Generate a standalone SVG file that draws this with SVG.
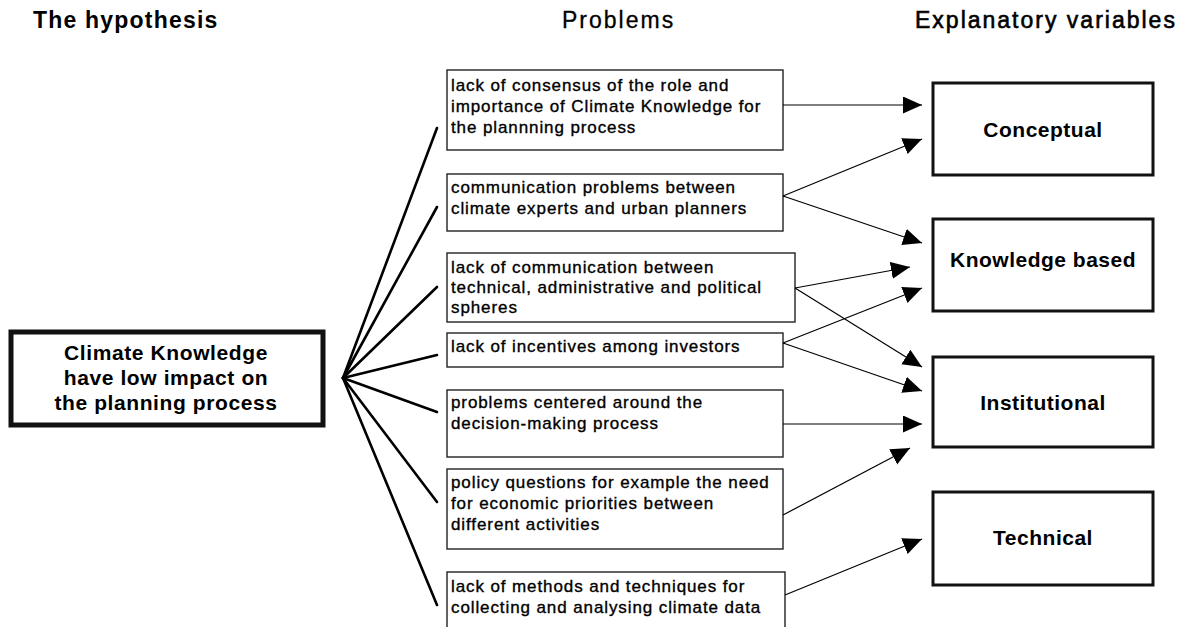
<svg xmlns="http://www.w3.org/2000/svg" width="1179" height="627" viewBox="0 0 1179 627">
<style>
  text { font-family: "Liberation Sans", Arial, sans-serif; fill: #000; }
  .head { font-size: 23px; letter-spacing: 2px; stroke: #000; stroke-width: 0.3px; }
  .head2 { font-size: 23px; letter-spacing: 2px; stroke: #000; stroke-width: 0.6px; }
  .headb { font-size: 23px; font-weight: bold; letter-spacing: 1.2px; }
  .hyp { font-size: 21px; font-weight: bold; letter-spacing: 0.6px; text-anchor: middle; }
  .prob { font-size: 17px; letter-spacing: 0.9px; stroke: #000; stroke-width: 0.35px; }
  .var { font-size: 21px; font-weight: bold; letter-spacing: 0.5px; text-anchor: middle; }
  .pbox { fill: #fff; stroke: #222; stroke-width: 1.4px; }
  .vbox { fill: #fff; stroke: #111; stroke-width: 3px; }
  .hbox { fill: #fff; stroke: #111; stroke-width: 5px; }
  .spoke { stroke: #000; stroke-width: 2.6px; fill: none; stroke-linecap: round; }
  .arrow { stroke: #000; stroke-width: 1.2px; fill: none; marker-end: url(#ah); }
</style>
<defs>
  <marker id="ah" markerUnits="userSpaceOnUse" markerWidth="20" markerHeight="18" refX="19" refY="8.5" orient="auto">
    <path d="M0,0 L19,8.5 L0,17 z" fill="#000"/>
  </marker>
</defs>
<rect width="1179" height="627" fill="#fff"/>

<g id="headings">
  <text class="headb" x="33" y="28">The hypothesis</text>
  <text class="head" x="562" y="28">Problems</text>
  <text class="head2" x="915" y="28">Explanatory variables</text>
</g>

<g id="hypothesis">
  <rect class="hbox" x="11" y="332" width="312" height="93"/>
  <text class="hyp" x="166" y="360">Climate Knowledge</text>
  <text class="hyp" x="166" y="385">have low impact on</text>
  <text class="hyp" x="166" y="410">the planning process</text>
</g>

<g id="p1">
  <rect class="pbox" x="447" y="70" width="336" height="80"/>
  <text class="prob" x="451" y="91">lack of consensus of the role and</text>
  <text class="prob" x="451" y="112">importance of Climate Knowledge for</text>
  <text class="prob" x="451" y="133">the plannning process</text>
</g>
<g id="p2">
  <rect class="pbox" x="447" y="174" width="336" height="57"/>
  <text class="prob" x="451" y="193">communication problems between</text>
  <text class="prob" x="451" y="214">climate experts and urban planners</text>
</g>
<g id="p3">
  <rect class="pbox" x="447" y="253" width="348" height="69"/>
  <text class="prob" x="451" y="273">lack of communication between</text>
  <text class="prob" x="451" y="293">technical, administrative and political</text>
  <text class="prob" x="451" y="313">spheres</text>
</g>
<g id="p4">
  <rect class="pbox" x="447" y="333" width="336" height="34"/>
  <text class="prob" x="451" y="352">lack of incentives among investors</text>
</g>
<g id="p5">
  <rect class="pbox" x="447" y="390" width="336" height="67"/>
  <text class="prob" x="451" y="408">problems centered around the</text>
  <text class="prob" x="451" y="429">decision-making process</text>
</g>
<g id="p6">
  <rect class="pbox" x="447" y="469" width="336" height="80"/>
  <text class="prob" x="451" y="488">policy questions for example the need</text>
  <text class="prob" x="451" y="509">for economic priorities between</text>
  <text class="prob" x="451" y="530">different activities</text>
</g>
<g id="p7">
  <rect class="pbox" x="447" y="572" width="338" height="70"/>
  <text class="prob" x="451" y="592">lack of methods and techniques for</text>
  <text class="prob" x="451" y="613">collecting and analysing climate data</text>
</g>

<g id="conceptual">
  <rect class="vbox" x="933" y="83" width="220" height="92"/>
  <text class="var" x="1043" y="137">Conceptual</text>
</g>
<g id="knowledge">
  <rect class="vbox" x="933" y="219" width="220" height="92"/>
  <text class="var" x="1043" y="267">Knowledge based</text>
</g>
<g id="institutional">
  <rect class="vbox" x="933" y="357" width="220" height="90"/>
  <text class="var" x="1043" y="410">Institutional</text>
</g>
<g id="technical">
  <rect class="vbox" x="933" y="492" width="220" height="93"/>
  <text class="var" x="1043" y="545">Technical</text>
</g>

<g id="connectors">
  <line class="spoke" x1="343" y1="378" x2="437" y2="128"/>
  <line class="spoke" x1="343" y1="378" x2="437" y2="207"/>
  <line class="spoke" x1="343" y1="378" x2="437" y2="287"/>
  <line class="spoke" x1="343" y1="378" x2="437" y2="355"/>
  <line class="spoke" x1="343" y1="378" x2="437" y2="412"/>
  <line class="spoke" x1="343" y1="378" x2="437" y2="502"/>
  <line class="spoke" x1="343" y1="378" x2="437" y2="605"/>

  <line class="arrow" x1="783" y1="105" x2="922" y2="105"/>
  <line class="arrow" x1="783" y1="196" x2="922" y2="139"/>
  <line class="arrow" x1="783" y1="196" x2="922" y2="243"/>
  <line class="arrow" x1="795" y1="288" x2="910" y2="267"/>
  <line class="arrow" x1="795" y1="288" x2="922" y2="367"/>
  <line class="arrow" x1="783" y1="343" x2="922" y2="288"/>
  <line class="arrow" x1="783" y1="343" x2="922" y2="391"/>
  <line class="arrow" x1="783" y1="424" x2="922" y2="424"/>
  <line class="arrow" x1="783" y1="515" x2="910" y2="448"/>
  <line class="arrow" x1="785" y1="595" x2="922" y2="539"/>
</g>
</svg>
